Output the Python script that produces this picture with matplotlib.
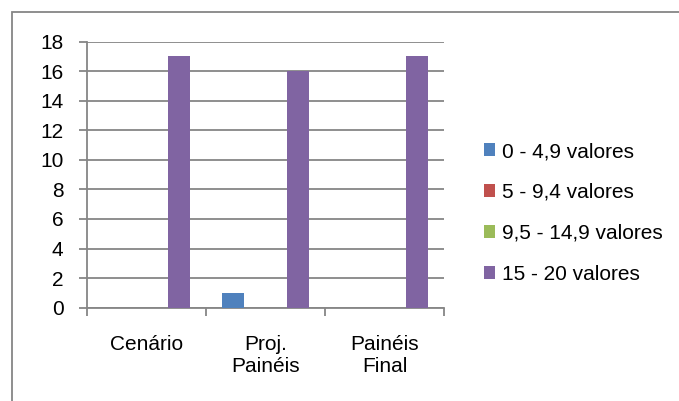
import matplotlib
matplotlib.use("Agg")
import matplotlib.pyplot as plt
import numpy as np
from matplotlib.patches import Rectangle, Patch

categories = ["Cenário", "Proj.\nPainéis", "Painéis\nFinal"]
series_names = ["0 - 4,9 valores", "5 - 9,4 valores", "9,5 - 14,9 valores", "15 - 20 valores"]
vals_0_49 = [0, 1, 0]
vals_5_94 = [0, 0, 0]
vals_95_149 = [0, 0, 0]
vals_15_20 = [17, 16, 17]
colors = ["#4F81BD", "#C0504D", "#9BBB59", "#8064A2"]
y_ticks = [0, 2, 4, 6, 8, 10, 12, 14, 16, 18]

plt.rcParams["font.family"] = ["Liberation Sans", "DejaVu Sans"]
W, H = 679, 401
fig = plt.figure(figsize=(W / 100, H / 100), dpi=100)

# outer chart frame
fig.patches.append(Rectangle((12 / W, -0.1), 1.2, (H - 12) / H + 0.1,
                             transform=fig.transFigure, fill=False,
                             edgecolor="#868686", linewidth=1.3))

x0, x1 = 87, 444
y0, y1 = 307.7, 41.5
ax = fig.add_axes([x0 / W, (H - y0) / H, (x1 - x0) / W, (y0 - y1) / H])

all_vals = [vals_0_49, vals_5_94, vals_95_149, vals_15_20]
n = len(all_vals)
w = 1 / (n + 1.5)
x = np.arange(len(categories))
for i, (vals, c) in enumerate(zip(all_vals, colors)):
    ax.bar(x + (i - (n - 1) / 2) * w, vals, width=w, color=c, linewidth=0, zorder=3)

ax.set_xlim(-0.5, len(categories) - 0.5)
ax.set_ylim(0, 18)
ax.set_yticks(y_ticks)
ax.yaxis.grid(True, color="#868686", linewidth=1.3, zorder=0)
ax.set_axisbelow(True)

ax.set_xticks(np.arange(len(categories) + 1) - 0.5)
ax.set_xticklabels([])
ax.set_xticks(x, minor=True)
ax.set_xticklabels(categories, minor=True, fontsize=15, linespacing=1.2)
ax.tick_params(axis="x", which="minor", length=0, pad=20)
ax.tick_params(axis="x", which="major", length=6, width=1.3, color="#868686", direction="out")
ax.tick_params(axis="y", length=6, width=1.3, color="#868686", direction="out",
               labelsize=15, pad=11)
for lbl in ax.get_xticklabels(minor=True):
    lbl.set_verticalalignment("top")

for s in ["top", "right"]:
    ax.spines[s].set_visible(False)
for s in ["left", "bottom"]:
    ax.spines[s].set_color("#868686")
    ax.spines[s].set_linewidth(1.3)

handles = [Patch(facecolor=c, edgecolor="none") for c in colors]
fig.legend(handles, series_names, loc="upper left",
           bbox_to_anchor=(484 / W, (H - 142) / H), frameon=False,
           fontsize=15, handlelength=0.55, handleheight=0.55,
           handletextpad=0.3, labelspacing=1.05, borderaxespad=0, borderpad=0)

fig.savefig("out.png", dpi=100)
